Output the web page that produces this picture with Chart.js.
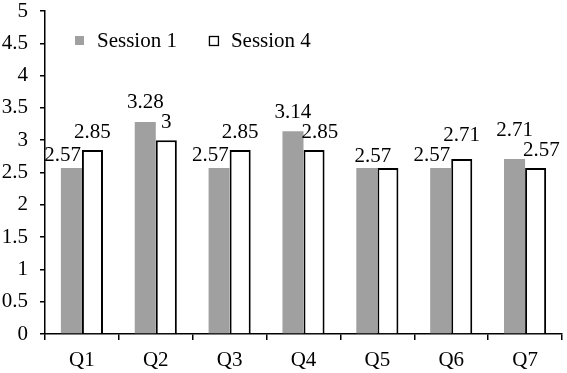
<!DOCTYPE html>
<html>
<head>
<meta charset="utf-8">
<script src="https://cdn.jsdelivr.net/npm/chart.js@4"></script>
<style>
  html, body { margin: 0; padding: 0; background: #fff; }
  #wrap { width: 567px; height: 373px; }
</style>
</head>
<body>
<div id="wrap"><canvas id="chart"></canvas></div>
<script>
// Data
const questions = ['Q1', 'Q2', 'Q3', 'Q4', 'Q5', 'Q6', 'Q7'];
const session1 = [2.57, 3.28, 2.57, 3.14, 2.57, 2.57, 2.71];
const session4 = [2.85, 3, 2.85, 2.85, 2.57, 2.71, 2.57];
const yTicks = [0, 0.5, 1, 1.5, 2, 2.5, 3, 3.5, 4, 4.5, 5];

const serif = '"Liberation Serif", "Times New Roman", serif';
const ink = '#000';
const grey = '#a0a0a0';
const fontSize = 21;

// value labels above bars; nudged sideways off the neighbour bar,
// then lifted when the two labels still collide
const valueLabels = {
  id: 'valueLabels',
  afterDatasetsDraw(chart) {
    const ctx = chart.ctx;
    const m0 = chart.getDatasetMeta(0).data;
    const m1 = chart.getDatasetMeta(1).data;
    ctx.save();
    ctx.font = fontSize + 'px ' + serif;
    ctx.fillStyle = ink;
    ctx.textAlign = 'center';
    ctx.textBaseline = 'alphabetic';
    const lineGap = 20;
    questions.forEach((q, i) => {
      const a = m0[i], b = m1[i];
      const ta = String(session1[i]), tb = String(session4[i]);
      const wa = ctx.measureText(ta).width, wb = ctx.measureText(tb).width;
      let aBase = a.y - 7, bBase = b.y - 12;
      let ax = a.x, bx = b.x;
      const bLeft = b.x - b.width / 2;
      const aRight = a.x + a.width / 2;
      if (session1[i] === session4[i]) {
        ctx.fillText(ta, a.x + 6, a.y - 6);
        return;
      }
      if (ax + wa / 2 > bLeft && aBase + 3 > b.y) ax = bLeft - wa / 2 - 1;
      if (bx - wb / 2 < aRight && bBase + 3 > a.y) bx = aRight + wb / 2 - 2;
      const overlapX = (ax + wa / 2) - (bx - wb / 2);
      if (overlapX > -4 && Math.abs(aBase - bBase) < lineGap) {
        if (session1[i] > session4[i]) aBase = bBase - lineGap;
        else bBase = aBase - lineGap;
      }
      ctx.fillText(ta, ax, aBase);
      ctx.fillText(tb, bx, bBase);
    });
    ctx.restore();
  }
};

// legend drawn inside the plot, top left
const insideLegend = {
  id: 'insideLegend',
  afterDraw(chart) {
    const ctx = chart.ctx;
    const area = chart.chartArea;
    ctx.save();
    ctx.font = fontSize + 'px ' + serif;
    ctx.textBaseline = 'alphabetic';
    ctx.textAlign = 'left';
    let x = area.left + 30;
    const base = area.top + 36;
    chart.data.datasets.forEach((d, i) => {
      const box = 9;
      const by = base - 11;
      ctx.fillStyle = d.backgroundColor;
      ctx.fillRect(x, by, box, box);
      if (i === 1) {
        ctx.strokeStyle = ink; ctx.lineWidth = 1.3;
        ctx.strokeRect(x + 0.5, by + 0.5, box, box);
      }
      ctx.fillStyle = ink;
      ctx.fillText(d.label, x + box + 13, base);
      x += box + 13 + ctx.measureText(d.label).width + 32;
    });
    ctx.restore();
  }
};

new Chart(document.getElementById('chart'), {
  type: 'bar',
  data: {
    labels: questions,
    datasets: [
      { label: 'Session 1', data: session1, backgroundColor: grey, borderWidth: 0 },
      { label: 'Session 4', data: session4, backgroundColor: '#fff', borderColor: ink, borderWidth: 2, borderSkipped: 'bottom' }
    ]
  },
  options: {
    responsive: true, maintainAspectRatio: false, animation: false,
    datasets: { bar: { categoryPercentage: 0.57, barPercentage: 1 } },
    layout: { padding: { top: 11, right: 5, left: 0, bottom: 0 } },
    plugins: {
      legend: { display: false },
      tooltip: { enabled: false }
    },
    scales: {
      x: {
        afterFit(axis) { axis.height = 39; axis.paddingLeft = 0; axis.paddingRight = 0; },
        grid: { offset: true, drawOnChartArea: false, color: ink, tickLength: 6, lineWidth: 1.5 },
        border: { color: ink, width: 1.5 },
        ticks: { color: ink, font: { family: serif, size: fontSize }, padding: 8 }
      },
      y: {
        min: 0, max: 5,
        afterFit(axis) { axis.width = 45; axis.paddingTop = 0; axis.paddingBottom = 0; },
        afterBuildTicks(axis) { axis.ticks = yTicks.map(v => ({ value: v })); },
        grid: { drawOnChartArea: false, color: ink, tickLength: 5, lineWidth: 1.5 },
        border: { color: ink, width: 1.5 },
        ticks: { color: ink, font: { family: serif, size: fontSize }, padding: 12, callback: v => String(v) }
      }
    }
  },
  plugins: [valueLabels, insideLegend]
});
</script>
</body>
</html>
